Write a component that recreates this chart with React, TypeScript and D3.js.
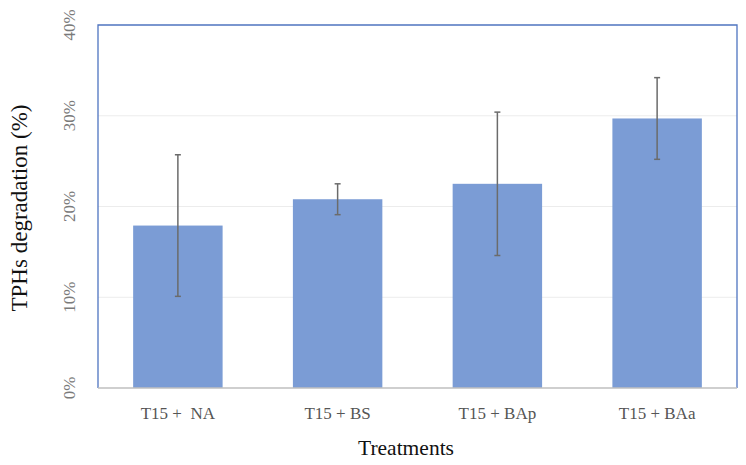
import React, { useEffect, useRef } from 'react';
import * as d3 from 'd3';

const categories = ['T15 +  NA', 'T15 + BS', 'T15 + BAp', 'T15 + BAa'];
const means = [0.179, 0.208, 0.225, 0.297];
const errors = [0.078, 0.017, 0.079, 0.045];
const yTicks = [0, 0.1, 0.2, 0.3, 0.4];

const W = 746;
const H = 465;
const margin = { top: 25, right: 9, bottom: 77, left: 98 };

const App: React.FC = () => {
  const svgRef = useRef<SVGSVGElement>(null);

  useEffect(() => {
    if (!svgRef.current) return;
    const svg = d3.select(svgRef.current);
    svg.selectAll('*').remove();

    const x0 = margin.left;
    const x1 = W - margin.right;
    const y0 = H - margin.bottom;
    const y1 = margin.top;

    const x = d3.scaleBand<string>().domain(categories).range([x0, x1]).paddingInner(0.44).paddingOuter(0.22);
    const y = d3.scaleLinear().domain([0, 0.4]).range([y0, y1]);
    const fmt = d3.format('.0%');
    const font = '"Liberation Serif", "DejaVu Serif", serif';

    // gridlines
    svg.append('g')
      .selectAll('line')
      .data(yTicks.slice(1, -1))
      .join('line')
      .attr('x1', x0).attr('x2', x1)
      .attr('y1', d => y(d)).attr('y2', d => y(d))
      .attr('stroke', '#ececec')
      .attr('stroke-width', 1);

    // bars
    svg.append('g')
      .selectAll('rect')
      .data(means)
      .join('rect')
      .attr('x', (_, i) => x(categories[i])!)
      .attr('width', x.bandwidth())
      .attr('y', d => y(d))
      .attr('height', d => y(0) - y(d))
      .attr('fill', '#7b9cd5');

    // error bars
    const eb = svg.append('g').attr('stroke', '#6b6b6b').attr('stroke-width', 1.5);
    means.forEach((m, i) => {
      const cx = x(categories[i])! + x.bandwidth() / 2;
      const top = y(m + errors[i]);
      const bot = y(m - errors[i]);
      eb.append('line').attr('x1', cx).attr('x2', cx).attr('y1', top).attr('y2', bot);
      eb.append('line').attr('x1', cx - 3).attr('x2', cx + 3).attr('y1', top).attr('y2', top);
      eb.append('line').attr('x1', cx - 3).attr('x2', cx + 3).attr('y1', bot).attr('y2', bot);
    });

    // frame: blue left/top/right, gray bottom axis
    svg.append('path')
      .attr('d', `M${x0},${y0} L${x0},${y1} L${x1},${y1} L${x1},${y0}`)
      .attr('fill', 'none')
      .attr('stroke', '#4f74c0')
      .attr('stroke-width', 1.3);
    svg.append('line')
      .attr('x1', x0).attr('x2', x1)
      .attr('y1', y0).attr('y2', y0)
      .attr('stroke', '#bfbfbf')
      .attr('stroke-width', 1.3);

    // y tick labels (rotated)
    svg.append('g')
      .selectAll('text')
      .data(yTicks)
      .join('text')
      .attr('transform', d => `translate(75,${y(d)}) rotate(-90)`)
      .attr('text-anchor', 'middle')
      .attr('font-family', font)
      .attr('font-size', 17)
      .attr('fill', '#7a7a7a')
      .text(d => fmt(d));

    // x tick labels
    svg.append('g')
      .selectAll('text')
      .data(categories)
      .join('text')
      .attr('x', d => x(d)! + x.bandwidth() / 2)
      .attr('y', 419)
      .attr('text-anchor', 'middle')
      .attr('font-family', font)
      .attr('font-size', 17)
      .attr('fill', '#555')
      .style('white-space', 'pre')
      .text(d => d);

    // axis titles
    svg.append('text')
      .attr('x', 406)
      .attr('y', 455)
      .attr('text-anchor', 'middle')
      .attr('font-family', font)
      .attr('font-size', 21.5)
      .attr('fill', '#111')
      .text('Treatments');

    svg.append('text')
      .attr('transform', `translate(27,208) rotate(-90)`)
      .attr('text-anchor', 'middle')
      .attr('font-family', font)
      .attr('font-size', 23)
      .attr('fill', '#111')
      .text('TPHs degradation (%)');
  }, []);

  return (
    <svg ref={svgRef} width={W} height={H} style={{ display: 'block', position: 'absolute', left: 0, top: 0, background: '#fff' }} />
  );
};

export default App;
